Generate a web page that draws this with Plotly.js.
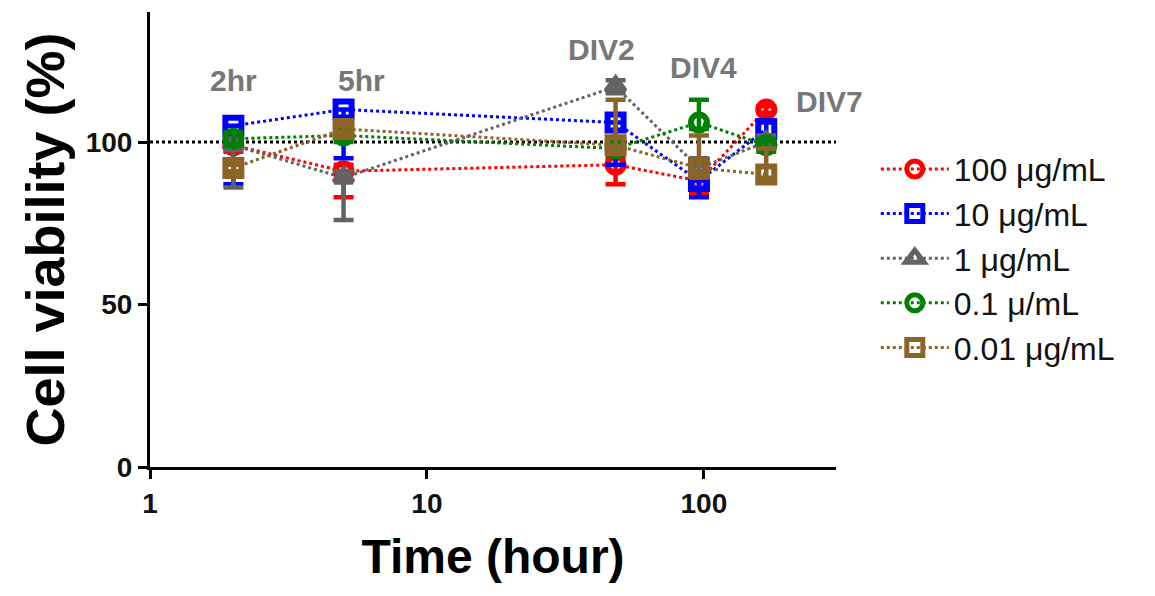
<!DOCTYPE html>
<html>
<head>
<meta charset="utf-8">
<script src="https://cdn.plot.ly/plotly-3.0.1.min.js"></script>
<style>html,body{margin:0;padding:0;background:#fff;}#chart{width:1155px;height:596px;}</style>
</head>
<body>
<div id="chart"></div>
<script>
// Time points (hours)
const times = [2, 5, 48, 96, 168];
const seriesNames = ["100 μg/mL", "10 μg/mL", "1 μg/mL", "0.1 μ/mL", "0.01 μg/mL"];

// Mean cell viability (%)
const v100 = [99, 91, 93, 88, 110];
const v10 = [105, 110, 106, 88, 104];
const v1 = [99, 89, 117, 92, 100];
const v01 = [101, 102, 98, 106, 99];
const v001 = [92, 104, 99, 92, 90];

// Error bars (up / down)
const e100Up = [2, 2, 2, 2, 1];
const e100Dn = [2, 8, 6, 4, 1];
const e10Up = [0, 0, 0, 0, 2];
const e10Dn = [18, 15, 13, 5, 2];
const e1Up = [2, 2, 2, 3, 2];
const e1Dn = [13, 13, 2, 3, 2];
const e01Up = [2, 2, 2, 7, 2];
const e01Dn = [2, 2, 2, 2, 2];
const e001Up = [1, 1, 14, 10, 8];
const e001Dn = [1, 1, 1, 1, 1];

// Time-point labels
const timeLabels = ["2hr", "5hr", "DIV2", "DIV4", "DIV7"];
const labelX = [2, 5.8, 42.6, 100, 285];
const labelY = [119, 119, 128.5, 123, 112.6];

const colors = ["#ff0000", "#0000ff", "#636363", "#008000", "#8c6428"];
const symbols = ["circle-open", "square-open", "triangle-up-open", "circle-open", "square-open"];
const vals = [v100, v10, v1, v01, v001];
const ups = [e100Up, e10Up, e1Up, e01Up, e001Up];
const dns = [e100Dn, e10Dn, e1Dn, e01Dn, e001Dn];

const traces = vals.map((v, i) => ({
  x: times, y: v, type: "scatter", mode: "lines+markers", name: seriesNames[i],
  line: {color: colors[i], width: 3, dash: "dot"},
  marker: {symbol: symbols[i], size: 16, color: colors[i], line: {color: colors[i], width: 6}},
  error_y: {type: "data", symmetric: false, array: ups[i], arrayminus: dns[i], color: colors[i], thickness: 4.5, width: 10}
}));

const layout = {
  width: 1155, height: 596,
  margin: {l: 150, r: 319, t: 12, b: 129},
  paper_bgcolor: "#fff", plot_bgcolor: "#fff",
  font: {family: "Liberation Sans, Arial, sans-serif", color: "#000"},
  showlegend: true,
  legend: {x: 1.058, y: 0.715, xanchor: "left", yanchor: "top", font: {size: 32, color: "#111"}, tracegroupgap: 0, itemwidth: 68, traceorder: "normal"},
  xaxis: {
    type: "log", range: [0, Math.log10(300)],
    showline: true, linecolor: "#000", linewidth: 3, showgrid: false, zeroline: false,
    ticks: "outside", ticklen: 9, tickwidth: 3, tickcolor: "#000",
    tickvals: [1, 10, 100], ticktext: ["1", "10", "100"],
    tickfont: {size: 28, weight: "bold", color: "#111"},
    title: {text: "Time (hour)", font: {size: 48, weight: "bold", color: "#000"}, standoff: 22}
  },
  yaxis: {
    range: [0, 140],
    showline: true, linecolor: "#000", linewidth: 3, showgrid: false, zeroline: false,
    ticks: "outside", ticklen: 9, tickwidth: 3, tickcolor: "#000",
    tickvals: [0, 50, 100],
    tickfont: {size: 28, weight: "bold", color: "#111"},
    title: {text: "Cell viability (%)", font: {size: 54, weight: "bold", color: "#000"}, standoff: 4}
  },
  shapes: [{type: "line", xref: "paper", x0: 0, x1: 1, yref: "y", y0: 100, y1: 100, line: {color: "#000", width: 3, dash: "dot"}, layer: "below"}],
  annotations: timeLabels.map((t, i) => ({
    x: Math.log10(labelX[i]), y: labelY[i], xref: "x", yref: "y", text: t, showarrow: false,
    font: {size: 30, weight: "bold", color: "#777"}
  }))
};

Plotly.newPlot("chart", traces, layout, {displayModeBar: false, staticPlot: true});
</script>
</body>
</html>
